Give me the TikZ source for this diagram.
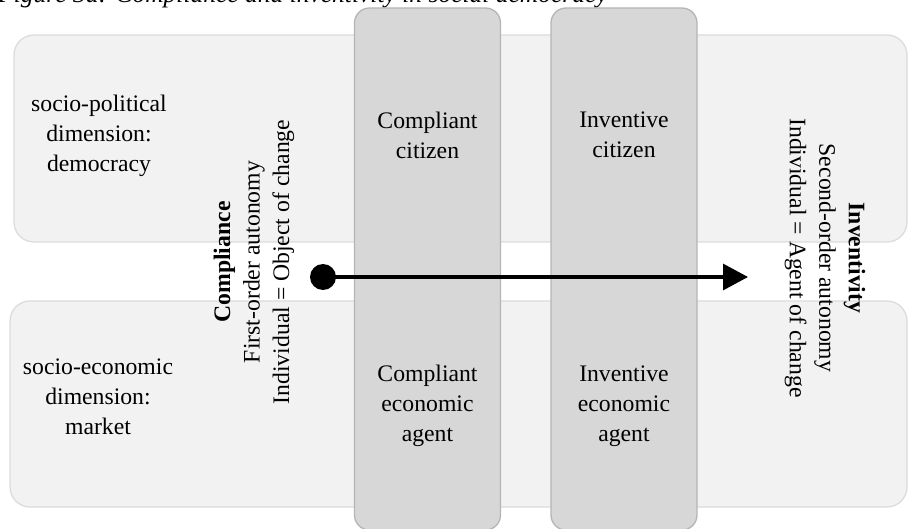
\documentclass[tikz,border=0pt]{standalone}
\usepackage{fontspec}
\setmainfont{Liberation Serif}
\usetikzlibrary{arrows.meta}
\definecolor{bandfill}{HTML}{F2F2F2}
\definecolor{banddraw}{HTML}{DCDCDC}
\definecolor{colfill}{HTML}{D7D7D7}
\definecolor{coldraw}{HTML}{B5B5B5}
\begin{document}
\begin{tikzpicture}[x=1pt,y=-1pt,
  band/.style={draw=banddraw, fill=bandfill, line width=1.3pt, rounded corners=20pt, inner sep=0pt},
  colbox/.style={draw=coldraw, fill=colfill, line width=1.3pt, rounded corners=15pt, inner sep=0pt, minimum width=146pt, minimum height=522pt},
  lbl/.style={align=center, inner sep=0pt, font=\fontsize{23.7}{30}\selectfont},
  vlbl/.style={lbl, font=\fontsize{23.7}{29.5}\selectfont}]
\useasboundingbox (0,0) rectangle (908,529);
% caption (clipped at top as in the reference)
\node[anchor=base west, inner sep=0pt, font=\itshape\fontsize{25.5}{30}\selectfont] (cap) at (-2,2.5) {Figure 3a: Compliance and inventivity in social democracy};
% bands
\node[band, minimum width=893pt, minimum height=207pt] (top) at (460.5,138.5) {};
\node[band, minimum width=897pt, minimum height=206pt] (bot) at (458.5,404) {};
% columns
\node[colbox] (c1) at (427.5,269) {};
\node[colbox] (c2) at (624,269) {};
% band labels
\node[lbl] (pol) at (99,136) {socio-political\\dimension:\\democracy};
\node[lbl] (eco) at (98,397) {socio-economic\\dimension:\\market};
% column labels
\node[lbl] (cc) at (427.5,135) {Compliant\\citizen};
\node[lbl] (ic) at (624,135) {Inventive\\citizen};
\node[lbl] (ce) at (427.5,406) {Compliant\\economic\\agent};
\node[lbl] (ie) at (624,406) {Inventive\\economic\\agent};
% vertical labels
\node[vlbl, rotate=90] (comp) at (254,262) {\textbf{Compliance}\\First-order autonomy\\Individual = Object of change};
\node[vlbl, rotate=-90] (inv) at (825,258) {\textbf{Inventivity}\\Second-order autonomy\\Individual = Agent of change};
% arrow
\node[circle, fill=black, minimum size=26pt, inner sep=0pt] (start) at (323,277) {};
\coordinate (end) at (748,277);
\draw[line width=3.2pt, -{Triangle[length=25pt,width=26pt]}] (start.center) -- (end);
\end{tikzpicture}
\end{document}
